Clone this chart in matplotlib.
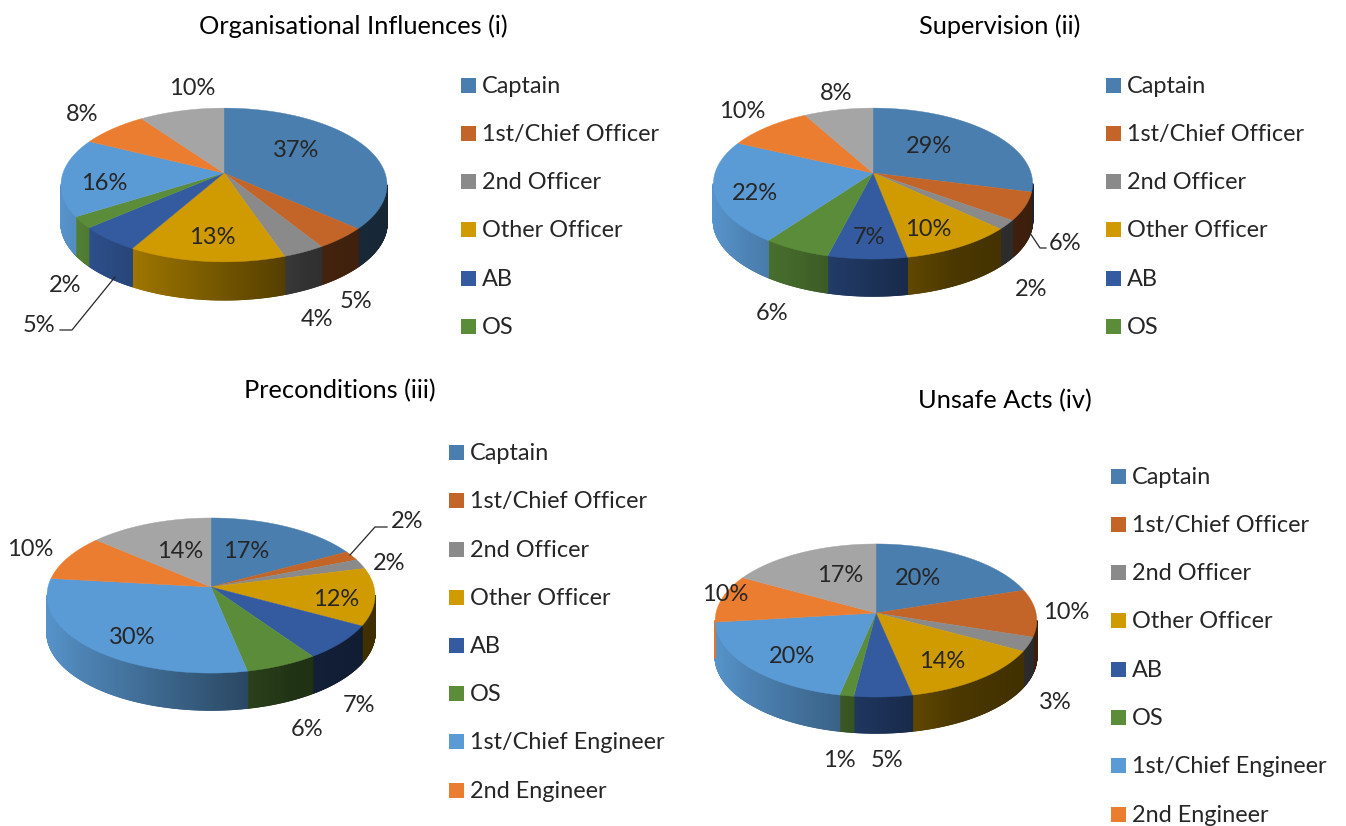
import numpy as np
import matplotlib
matplotlib.use("Agg")
import matplotlib.pyplot as plt
from matplotlib.collections import PolyCollection
from matplotlib.patches import Polygon, Rectangle
from matplotlib.colors import to_rgb

plt.rcParams['font.family'] = ['Lato', 'DejaVu Sans']

categories = ["Captain", "1st/Chief Officer", "2nd Officer", "Other Officer", "AB", "OS",
              "1st/Chief Engineer", "2nd Engineer"]

# one decimal read from the slice boundaries, the labels show them rounded
organisational = [36.6, 4.6, 3.6, 13.4, 5.4, 2.4, 16.4, 7.8, 9.8]
supervision = [29, 6, 2, 10, 7, 6, 22, 10, 8]
preconditions = [17, 2, 2, 12, 7.4, 6.4, 30, 9.6, 13.6]
unsafe_acts = [20, 10, 3, 13.7, 5.3, 1.3, 19.8, 10, 16.9]

slice_colors = ["#4A7EAF", "#C36528", "#8A8A8A", "#D09B00", "#345BA0", "#5B8C3A",
                "#5B9BD5", "#EB7D31", "#A5A5A5"]

TEXT = "#262626"


def project(t, apex, bx, by, k):
    # circle seen in perspective, t is clockwise from the far side
    s = 1.0 / (1.0 + k * np.cos(t))
    return apex[0] + bx * np.sin(t) * s, apex[1] - by * np.cos(t) * s


def shade(color, frac):
    f = np.interp(frac, [0.0, 0.1, 0.4, 0.75, 1.0], [0.95, 0.85, 0.62, 0.36, 0.3])
    return tuple(c * f for c in to_rgb(color))


def pie3d(ax, values, apex, bx, by, k, depth):
    total = float(sum(values))
    edges = 2 * np.pi * np.concatenate([[0], np.cumsum(values)]) / total
    left = apex[0] - bx * 1.012
    width = 2 * bx * 1.012

    # only the front of the wall shows, from one tangent point to the other
    for i, color in enumerate(slice_colors):
        n = max(int(values[i] * 12), 12)
        t = np.linspace(edges[i], edges[i + 1], n + 1)
        x, y = project(t, apex, bx, by, k)
        quads = []
        cols = []
        for j in range(n):
            if np.cos((t[j] + t[j + 1]) / 2) > -k:
                continue
            quads.append([(x[j], y[j]), (x[j + 1], y[j + 1]),
                          (x[j + 1], y[j + 1] + depth), (x[j], y[j] + depth)])
            cols.append(shade(color, ((x[j] + x[j + 1]) / 2 - left) / width))
        if quads:
            ax.add_collection(PolyCollection(quads, facecolors=cols, edgecolors=cols, linewidths=1.0))

    for i, color in enumerate(slice_colors):
        t = np.linspace(edges[i], edges[i + 1], max(int(values[i] * 4), 6))
        x, y = project(t, apex, bx, by, k)
        pts = [apex] + list(zip(x, y))
        ax.add_patch(Polygon(pts, closed=True, facecolor=color, edgecolor=color, linewidth=0.3))


def value_labels(ax, values, positions):
    for v, (x, y) in zip(values, positions):
        ax.text(x, y + 1.5, f"{v:.0f}%", fontsize=17, color=TEXT, ha="center", va="center")


def legend(ax, names, x, rows):
    for name, color, y in zip(names, slice_colors, rows):
        ax.add_patch(Rectangle((x, y - 7.5), 15, 15, facecolor=color, edgecolor="none"))
        ax.text(x + 21, y + 1.5, name, fontsize=16.9, color=TEXT, ha="left", va="center")


fig = plt.figure(figsize=(13.46, 8.26), dpi=100)
ax = fig.add_axes([0, 0, 1, 1])
ax.set_xlim(0, 1346)
ax.set_ylim(826, 0)
ax.axis("off")

pie3d(ax, organisational, (224, 173), 161, 75, 0.156, 38)
pie3d(ax, supervision, (873, 173), 158, 74, 0.14, 37)
pie3d(ax, preconditions, (211, 587), 163, 76.6, 0.11, 37)
pie3d(ax, unsafe_acts, (876, 613), 160, 75.8, 0.098, 36)

value_labels(ax, organisational, [(296, 149), (356, 300), (317, 318), (212, 236), (39, 324),
                                  (65, 284), (104, 182), (82, 113), (192, 87)])
value_labels(ax, supervision, [(929, 145), (1065, 242), (1031, 288), (928, 228), (869, 236),
                               (772, 312), (755, 192), (742, 110), (836, 92)])
value_labels(ax, preconditions, [(246, 550), (407, 520), (389, 562), (336, 598), (359, 704),
                                 (307, 728), (132, 636), (30, 548), (180, 550)])
value_labels(ax, unsafe_acts, [(918, 577), (1066, 611), (1055, 701), (942, 660), (887, 759),
                               (839, 759), (792, 655), (725, 593), (840, 574)])

# leader lines
ax.plot([115, 72, 60], [277, 330, 330], color=TEXT, lw=0.9)
ax.plot([1030, 1040, 1046], [233, 248, 248], color=TEXT, lw=0.9)
ax.plot([350, 375, 387], [555, 527, 527], color=TEXT, lw=0.9)

legend(ax, categories[:6], 461, [85, 133, 181, 229, 278, 326])
legend(ax, categories[:6], 1106, [85, 133, 181, 229, 278, 326])
legend(ax, categories, 449, [452, 500, 549, 597, 645, 693, 741, 790])
legend(ax, categories, 1111, [476, 524, 572, 620, 669, 717, 765, 814])

ax.text(353, 26, "Organisational Influences (i)", fontsize=18.3, color="black", ha="center", va="center")
ax.text(1000, 26, "Supervision (ii)", fontsize=18.3, color="black", ha="center", va="center")
ax.text(340, 391, "Preconditions (iii)", fontsize=18.3, color="black", ha="center", va="center")
ax.text(1005, 401, "Unsafe Acts (iv)", fontsize=18.3, color="black", ha="center", va="center")

plt.savefig("out.png", dpi=100)
